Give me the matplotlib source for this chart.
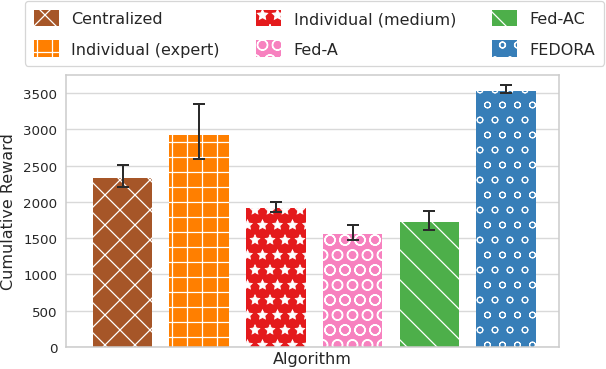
import matplotlib
matplotlib.use("Agg")
import matplotlib.pyplot as plt
import numpy as np

algorithms = ["Centralized", "Individual (expert)", "Individual (medium)", "Fed-A", "Fed-AC", "FEDORA"]
means = [2330, 2925, 1915, 1560, 1720, 3525]
err_low = [2205, 2590, 1855, 1475, 1615, 3495]
err_high = [2510, 3350, 2000, 1680, 1870, 3605]
colors = ["#a65628", "#ff7f00", "#e41a1c", "#f781bf", "#4daf4a", "#377eb8"]
hatches = ["x", "+", "*", "O", "\\", "o"]
hatch_lw = [1.0, 1.0, 0.6, 1.1, 1.0, 0.8]
yticks = [0, 500, 1000, 1500, 2000, 2500, 3000, 3500]

plt.rcParams["font.family"] = ["DejaVu Sans"]
plt.rcParams["hatch.linewidth"] = 1.0
plt.rcParams["text.color"] = "#262626"

DPI = 90
fig = plt.figure(figsize=(606 / DPI, 370 / DPI), dpi=DPI)
ax = fig.add_axes([66 / 606, 1 - 348 / 370, (559 - 66) / 606, (348 - 76) / 370])

x = np.arange(len(algorithms))
means_a = np.array(means)
yerr = [means_a - np.array(err_low), np.array(err_high) - means_a]

for i, (name, m, c, h) in enumerate(zip(algorithms, means, colors, hatches)):
    with plt.rc_context({"hatch.linewidth": hatch_lw[i]}):
        ax.bar(x[i], m, width=0.776, color=c, edgecolor="white", linewidth=0,
               hatch=h, label=name, zorder=2)

ax.errorbar(x, means, yerr=yerr, fmt="none", ecolor="#2b2b2b", elinewidth=1.6,
            capsize=4.8, capthick=1.6, zorder=3)

ax.set_xlim(-0.737, 5.69)
ax.set_ylim(0, 3748)
ax.set_xticks([])
ax.set_yticks(yticks)
ax.set_yticklabels([str(v) for v in yticks])
ax.tick_params(axis="y", length=0, pad=7, labelsize=10.7, labelcolor="#262626")
ax.yaxis.grid(True, color="#d9d9d9", linewidth=1.1, zorder=0)
ax.set_axisbelow(True)
for s in ax.spines.values():
    s.set_color("#cccccc")
    s.set_linewidth(1.25)

ax.set_ylabel("Cumulative Reward", fontsize=12.8, color="#262626", labelpad=6)
ax.set_xlabel("Algorithm", fontsize=12.8, color="#262626", labelpad=3)

leg = fig.legend(loc="upper center", bbox_to_anchor=(314.5 / 606, 1 - 2 / 370),
                 bbox_transform=fig.transFigure, ncol=3, fontsize=12.8,
                 frameon=True, handlelength=1.56, handleheight=1.2,
                 handletextpad=0.8, columnspacing=2.25, labelspacing=0.86,
                 borderpad=0.55, borderaxespad=0)
leg.get_frame().set_edgecolor("#cccccc")
leg.get_frame().set_linewidth(1.0)
for t in leg.get_texts():
    t.set_color("#262626")

fig.savefig("out.png", dpi=DPI)
